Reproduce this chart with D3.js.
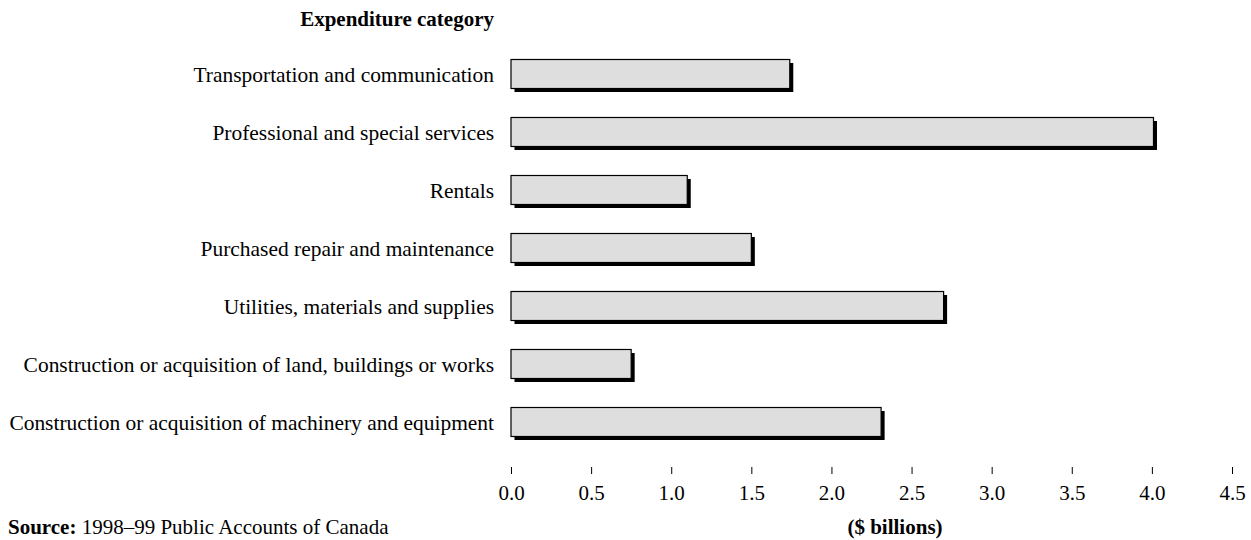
<!DOCTYPE html>
<html>
<head>
<meta charset="utf-8">
<script src="https://cdn.jsdelivr.net/npm/d3@7"></script>
<style>
  html, body { margin: 0; padding: 0; background: #fff; }
  svg text { font-family: "Liberation Serif", "Times New Roman", serif; fill: #000; }
</style>
</head>
<body>
<svg id="chart" width="1251" height="540"></svg>
<script>
// Federal operating and capital expenditures by category, $ billions
const categories = [
  "Transportation and communication",
  "Professional and special services",
  "Rentals",
  "Purchased repair and maintenance",
  "Utilities, materials and supplies",
  "Construction or acquisition of land, buildings or works",
  "Construction or acquisition of machinery and equipment"
];
const values = [1.74, 4.01, 1.10, 1.50, 2.70, 0.75, 2.31];
const tickValues = [0, 0.5, 1.0, 1.5, 2.0, 2.5, 3.0, 3.5, 4.0, 4.5];

const svg = d3.select("#chart");
const fontSize = 21;
const labelSize = 21.45;

const x = d3.scaleLinear().domain([0, 4.5]).range([511, 1232]);
const y = d3.scaleBand().domain(categories).range([45, 451])
  .paddingInner(0.5).paddingOuter(0.25);

const shadow = 3.5;

const bars = svg.append("g");
// drop shadows
bars.selectAll("rect.shadow").data(values).join("rect")
  .attr("class", "shadow")
  .attr("x", x(0) + shadow)
  .attr("y", (d, i) => y(categories[i]) + shadow)
  .attr("width", d => x(d) - x(0))
  .attr("height", y.bandwidth())
  .attr("fill", "#000");
// bars
bars.selectAll("rect.bar").data(values).join("rect")
  .attr("class", "bar")
  .attr("x", x(0))
  .attr("y", (d, i) => y(categories[i]))
  .attr("width", d => x(d) - x(0))
  .attr("height", y.bandwidth())
  .attr("fill", "#dedede")
  .attr("stroke", "#000")
  .attr("stroke-width", 1.2);

// category labels
svg.append("g").selectAll("text").data(categories).join("text")
  .attr("x", 494)
  .attr("y", d => y(d) + y.bandwidth() / 2)
  .attr("dy", "0.36em")
  .attr("text-anchor", "end")
  .style("font-size", labelSize + "px")
  .text(d => d);

svg.append("text")
  .attr("x", 494).attr("y", 26)
  .attr("text-anchor", "end")
  .style("font-size", fontSize + "px")
  .style("font-weight", "bold")
  .text("Expenditure category");

// value axis (ticks and labels only, no domain line)
const axis = d3.axisBottom(x)
  .tickValues(tickValues)
  .tickFormat(d3.format(".1f"))
  .tickSize(7)
  .tickPadding(11);
const ax = svg.append("g").attr("transform", "translate(0,467)").call(axis);
ax.select(".domain").remove();
ax.selectAll(".tick line").attr("stroke", "#000").attr("stroke-width", 1);
ax.selectAll(".tick text")
  .style("font-family", "'Liberation Serif', 'Times New Roman', serif")
  .style("font-size", fontSize + "px")
  .attr("fill", "#000");

svg.append("text")
  .attr("x", 895).attr("y", 534)
  .attr("text-anchor", "middle")
  .style("font-size", fontSize + "px")
  .style("font-weight", "bold")
  .text("($ billions)");

const src = svg.append("text")
  .attr("x", 8).attr("y", 534)
  .style("font-size", fontSize + "px");
src.append("tspan").style("font-weight", "bold").text("Source:");
src.append("tspan").text(" 1998–99 Public Accounts of Canada");
</script>
</body>
</html>
